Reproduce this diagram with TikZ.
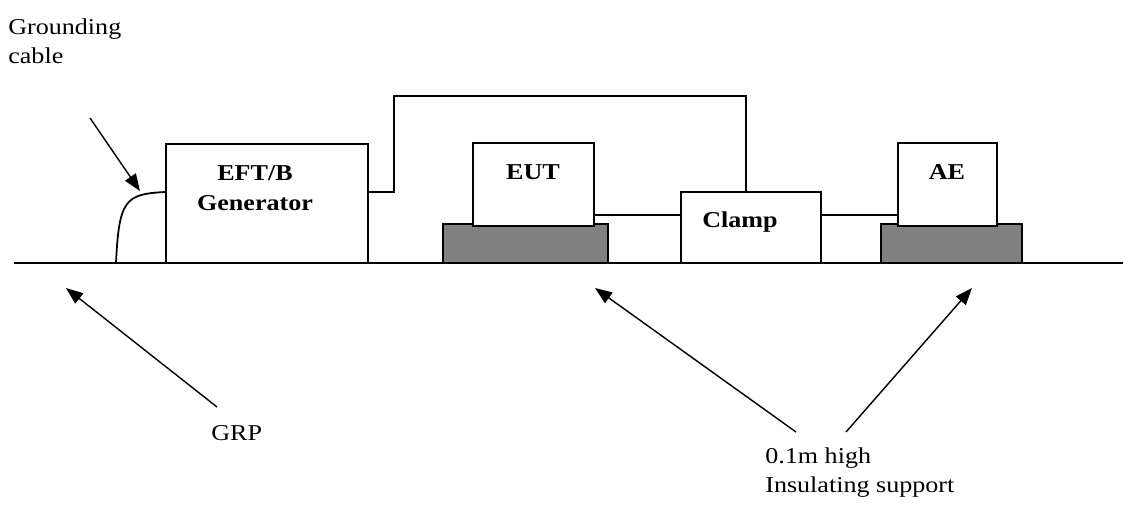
\documentclass[tikz,border=0pt]{standalone}
\usepackage{fontspec}
\setmainfont{Liberation Serif}[FakeStretch=1.15]
\usepackage{tikz}
\usetikzlibrary{arrows.meta}
\usetikzlibrary{positioning}
\usetikzlibrary{fit}

\definecolor{basegray}{RGB}{128,128,128}

\tikzset{
	unit/.style={draw, line width=1pt, fill=white, inner sep=0pt},
	stand/.style={draw, line width=1pt, fill=basegray, inner sep=0pt},
	wire/.style={line width=0.8pt},
	pointer/.style={line width=0.8pt, -{Triangle[length=3.4mm,width=2.6mm]}},
	tag/.style={font=\bfseries\fontsize{12.9pt}{17pt}\selectfont, inner sep=0pt},
	note/.style={font=\fontsize{12.9pt}{17pt}\selectfont, inner sep=0pt, align=left},
}

\begin{document}
\begin{tikzpicture}[x=0.02cm, y=-0.02cm]

	\useasboundingbox (0,0) rectangle (1123,504);

	% Test setup
	% ----------

	% ground plane
	\coordinate (gndL) at (14,263);
	\coordinate (gndR) at (1123,263);
	\draw[line width=0.9pt] (gndL) -- (gndR);

	% insulating supports
	\node[stand, fit={(443,224) (608,263)}] (eutbase) {};
	\node[stand, fit={(881,224) (1022,263)}] (aebase) {};

	% boxes
	\node[unit, fit={(166,144) (368,263)}] (gen) {};
	\node[unit, fit={(473,143) (594,226)}] (eut) {};
	\node[unit, fit={(681,192) (821,263)}] (clamp) {};
	\node[unit, fit={(898,143) (997,226)}] (ae) {};

	% box texts
	\node[tag, align=center, anchor=north] (gentxt) at (255,165) {EFT/B\\Generator};
	\node[tag, anchor=base] (euttxt) at (533,179) {EUT};
	\node[tag, anchor=base] (clamptxt) at (740,227) {Clamp};
	\node[tag, anchor=base] (aetxt) at (947,179) {AE};

	% wires
	\coordinate (lvl1) at (0,192);
	\coordinate (lvl2) at (0,215);
	\coordinate (lift1) at (394,96);
	\coordinate (lift2) at (746,96);
	\draw[wire] (gen.east |- lvl1) -| (lift1) -- (lift2) -- (lift2 |- clamp.north);
	\draw[wire] (eut.east |- lvl2) -- (clamp.west |- lvl2);
	\draw[wire] (clamp.east |- lvl2) -- (ae.west |- lvl2);

	% grounding cable
	\coordinate (gndpt) at (116,263);
	\draw[line width=1pt] (gndpt) .. controls (119,200) and (125,194) .. (gen.west |- lvl1);

	% labels
	\node[note, anchor=north west] (cabletxt) at (8,18) {Grounding\\cable};
	\node[note, anchor=base west] (grptxt) at (211,440) {GRP};
	\node[note, anchor=north west] (supptxt) at (765,447) {0.1m high\\Insulating support};

	% pointers
	\coordinate (cabtail) at (90,118);
	\coordinate (cabtip) at (140,191);
	\coordinate (grptail) at (217,407);
	\coordinate (grptip) at (66,288);
	\coordinate (supptail1) at (796,432);
	\coordinate (supptip1) at (595,288);
	\coordinate (supptail2) at (846,432);
	\coordinate (supptip2) at (972,288);
	\draw[pointer] (cabtail) -- (cabtip);
	\draw[pointer] (grptail) -- (grptip);
	\draw[pointer] (supptail1) -- (supptip1);
	\draw[pointer] (supptail2) -- (supptip2);

\end{tikzpicture}
\end{document}
